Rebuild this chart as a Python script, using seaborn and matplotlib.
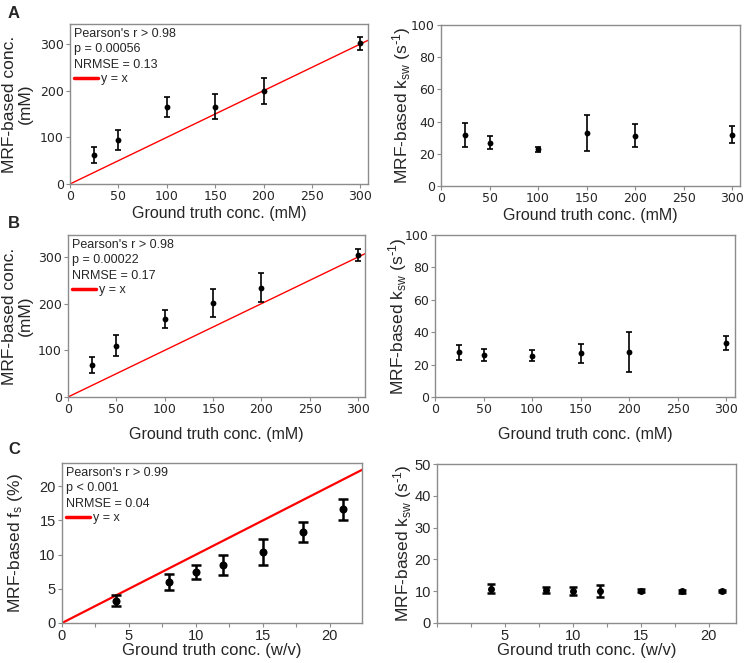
import matplotlib
matplotlib.use("Agg")
import matplotlib.pyplot as plt
import seaborn as sns
from matplotlib.lines import Line2D
from matplotlib.ticker import MultipleLocator, NullFormatter

# ---------------- data ----------------
conc_mM = [25, 50, 100, 150, 200, 300]
a_conc = [62, 94.5, 165, 166, 200, 302]
a_conc_err = [17, 22, 22, 27, 28, 14]
a_ksw = [31.8, 27, 22.7, 32.8, 31.3, 31.8]
a_ksw_err = [7.3, 4.3, 1.5, 11, 7.3, 5.2]

b_conc = [68.7, 109.5, 167.5, 201, 234, 305]
b_conc_err = [17, 22.5, 19, 30.5, 31, 13]
b_ksw = [27.5, 25.7, 25.5, 26.9, 27.7, 33.5]
b_ksw_err = [4.9, 3.7, 3.5, 5.7, 12.4, 4.3]

conc_wv = [4, 8, 10, 12, 15, 18, 21]
c_fs = [3.24, 6.0, 7.46, 8.5, 10.4, 13.3, 16.6]
c_fs_err = [0.8, 1.2, 1.0, 1.5, 1.9, 1.45, 1.55]
c_ksw = [10.8, 10.3, 10.1, 10.1, 10.1, 10.0, 10.0]
c_ksw_err = [1.35, 1.0, 1.2, 2.0, 0.5, 0.5, 0.3]

stats_a = ["Pearson's r > 0.98", "p = 0.00056", "NRMSE = 0.13"]
stats_b = ["Pearson's r > 0.98", "p = 0.00022", "NRMSE = 0.17"]
stats_c = ["Pearson's r > 0.99", "p < 0.001", "NRMSE = 0.04"]
panel_letters = ["A", "B", "C"]

xlabel_mM = "Ground truth conc. (mM)"
xlabel_wv = "Ground truth conc. (w/v)"
ylabel_conc = "MRF-based conc.\n(mM)"
ylabel_fs = r"MRF-based f$_{\mathregular{s}}$ (%)"
ylabel_ksw = r"MRF-based k$_{\mathregular{sw}}$ (s$^{\mathregular{\text{-}1}}$)"

# ---------------- style ----------------
sns.set_style("white")
plt.rcParams["font.family"] = ["Liberation Sans", "DejaVu Sans"]
plt.rcParams["mathtext.default"] = "regular"

fig = plt.figure(figsize=(7.44, 6.63), dpi=100)
W, H = 744, 663


def add_axes(left, right, top, bottom):
    return fig.add_axes([left / W, 1 - bottom / H, (right - left) / W, (bottom - top) / H])


SPINE = "#8c8c8c"


def style_ax(ax, tick_fs, tick_family):
    for s in ax.spines.values():
        s.set_color(SPINE)
        s.set_linewidth(1.0)
    ax.tick_params(axis="both", which="both", direction="out", length=3, width=0.8,
                   color=SPINE, labelsize=tick_fs, pad=1.5, bottom=True, left=True)
    for lab in ax.get_xticklabels() + ax.get_yticklabels():
        lab.set_family(tick_family)


def draw_points(ax, x, y, err, ms, cap, lw):
    sns.scatterplot(x=x, y=y, ax=ax, color="black", s=ms ** 2, edgecolor="black",
                    linewidth=0, zorder=3, legend=False)
    ax.errorbar(x, y, yerr=err, fmt="none", ecolor="black", elinewidth=lw,
                capsize=cap, capthick=lw, zorder=2)


def identity(ax, stats, lw, fs):
    ax.axline((0, 0), slope=1, color="red", lw=lw, zorder=1)
    leg = ax.legend(handles=[Line2D([], [], color="red", lw=2.5)], labels=["y = x"],
                    title="\n".join(stats), loc="upper left", frameon=False,
                    alignment="left", fontsize=fs, title_fontsize=fs,
                    handlelength=1.9, handletextpad=0.3, borderpad=0.15,
                    borderaxespad=0.15, labelspacing=0.2)
    leg.get_title().set_linespacing(1.38)
    leg._legend_box.sep = 2


# ---------------- Panel A ----------------
axAL = add_axes(70, 368, 24, 184)
draw_points(axAL, conc_mM, a_conc, a_conc_err, 4.2, 2.5, 1.2)
axAL.set_xlim(0, 308)
axAL.set_ylim(0, 343)
axAL.xaxis.set_major_locator(MultipleLocator(50))
axAL.yaxis.set_major_locator(MultipleLocator(100))
identity(axAL, stats_a, 1.0, 9)
axAL.set_xlabel(xlabel_mM, fontsize=11.5, labelpad=2)
axAL.set_ylabel(ylabel_conc, fontsize=12.5, linespacing=1.1)
axAL.yaxis.set_label_coords(-0.124, 0.5)
style_ax(axAL, 9, "DejaVu Sans")

axAR = add_axes(441, 740, 25, 186)
draw_points(axAR, conc_mM, a_ksw, a_ksw_err, 4.2, 2.5, 1.2)
axAR.set_xlim(0, 308)
axAR.set_ylim(0, 100)
axAR.xaxis.set_major_locator(MultipleLocator(50))
axAR.yaxis.set_major_locator(MultipleLocator(20))
axAR.set_xlabel(xlabel_mM, fontsize=11.5, labelpad=2)
axAR.set_ylabel(ylabel_ksw, fontsize=12.5)
axAR.yaxis.set_label_coords(-0.092, 0.5)
style_ax(axAR, 9, "DejaVu Sans")

# ---------------- Panel B ----------------
axBL = add_axes(68, 365, 235, 397)
draw_points(axBL, conc_mM, b_conc, b_conc_err, 4.2, 2.5, 1.2)
axBL.set_xlim(0, 307)
axBL.set_ylim(0, 347)
axBL.xaxis.set_major_locator(MultipleLocator(50))
axBL.yaxis.set_major_locator(MultipleLocator(100))
identity(axBL, stats_b, 1.0, 9)
axBL.set_xlabel(xlabel_mM, fontsize=11.5, labelpad=8)
axBL.set_ylabel(ylabel_conc, fontsize=12.5, linespacing=1.1)
axBL.yaxis.set_label_coords(-0.118, 0.5)
style_ax(axBL, 9, "DejaVu Sans")

axBR = add_axes(435, 735, 235, 397)
draw_points(axBR, conc_mM, b_ksw, b_ksw_err, 4.2, 2.5, 1.2)
axBR.set_xlim(0, 309)
axBR.set_ylim(0, 100)
axBR.xaxis.set_major_locator(MultipleLocator(50))
axBR.yaxis.set_major_locator(MultipleLocator(20))
axBR.set_xlabel(xlabel_mM, fontsize=11.5, labelpad=8)
axBR.set_ylabel(ylabel_ksw, fontsize=12.5)
axBR.yaxis.set_label_coords(-0.087, 0.5)
style_ax(axBR, 9, "DejaVu Sans")

# ---------------- Panel C ----------------
axCL = add_axes(62, 362, 463, 623)
draw_points(axCL, conc_wv, c_fs, c_fs_err, 5.8, 3.5, 1.8)
axCL.set_xlim(0, 22.4)
axCL.set_ylim(0, 23.4)
axCL.xaxis.set_major_locator(MultipleLocator(5))
axCL.xaxis.set_minor_locator(MultipleLocator(2.5))
axCL.xaxis.set_minor_formatter(NullFormatter())
axCL.yaxis.set_major_locator(MultipleLocator(5))
identity(axCL, stats_c, 1.6, 9)
axCL.set_xlabel(xlabel_wv, fontsize=12, labelpad=0)
axCL.set_ylabel(ylabel_fs, fontsize=12.5)
axCL.yaxis.set_label_coords(-0.125, 0.5)
style_ax(axCL, 10.5, "Liberation Sans")

axCR = add_axes(437, 736, 464, 623)
draw_points(axCR, conc_wv, c_ksw, c_ksw_err, 5, 3.2, 1.8)
axCR.set_xlim(0, 22)
axCR.set_ylim(0, 50)
axCR.set_xticks([5, 10, 15, 20])
axCR.xaxis.set_minor_locator(MultipleLocator(2.5))
axCR.xaxis.set_minor_formatter(NullFormatter())
axCR.yaxis.set_major_locator(MultipleLocator(10))
axCR.set_xlabel(xlabel_wv, fontsize=12, labelpad=0)
axCR.set_ylabel(ylabel_ksw, fontsize=12.5)
axCR.yaxis.set_label_coords(-0.077, 0.5)
style_ax(axCR, 10.5, "Liberation Sans")

# panel letters
for letter, ypix in zip(panel_letters, [13, 223, 449]):
    fig.text(8 / W, 1 - ypix / H, letter, fontsize=12, fontweight="bold",
             ha="left", va="center", family="Liberation Sans")

fig.savefig("out.png", dpi=100)
